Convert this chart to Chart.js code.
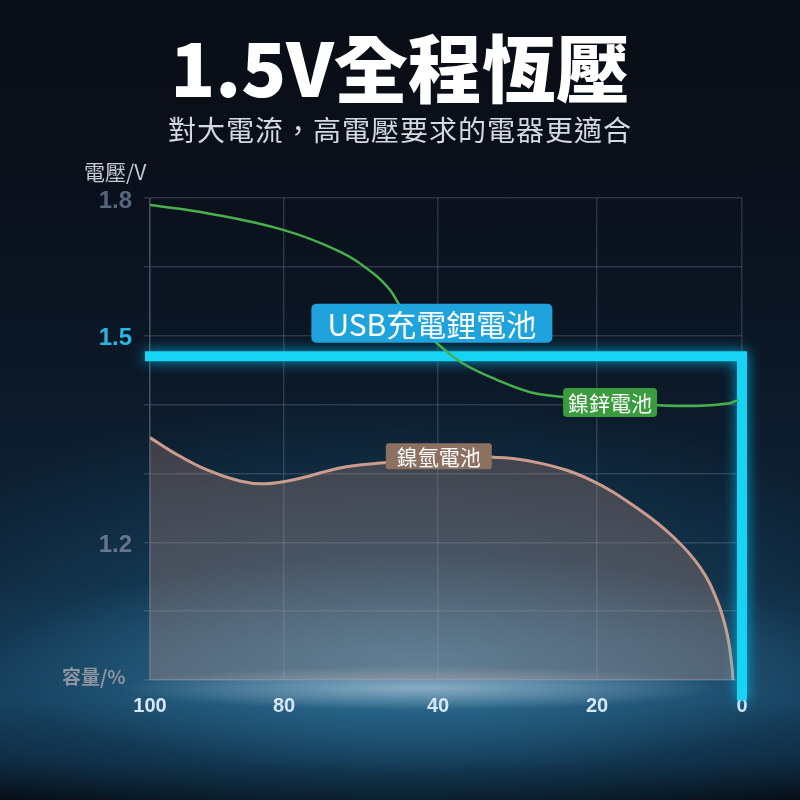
<!DOCTYPE html>
<html>
<head>
<meta charset="utf-8">
<script src="https://cdn.jsdelivr.net/npm/chart.js@4/dist/chart.umd.min.js"></script>
<style>
html,body{margin:0;padding:0;}
body{width:800px;height:800px;overflow:hidden;position:relative;font-family:"Noto Sans CJK TC",sans-serif;
background:
 radial-gradient(ellipse 300px 22px at 420px 688px, rgba(200,215,228,0.6), rgba(200,215,228,0) 100%),
 radial-gradient(ellipse 430px 110px at 420px 665px, rgba(70,145,185,0.55), rgba(70,145,185,0) 100%),
 radial-gradient(ellipse 560px 260px at 400px 650px, rgba(30,100,140,0.6), rgba(30,100,140,0) 100%),
 linear-gradient(to bottom, #090d16 0px, #0a0f19 140px, #0b1522 300px, #0e2336 580px, #163c58 700px, #0e263c 760px, #05090f 800px);}
#wrap{position:absolute;left:0;top:0;width:800px;height:800px;}
.title{position:absolute;left:0;width:800px;text-align:center;white-space:nowrap;}
#t1{top:21px;font-size:74px;line-height:88px;font-weight:900;color:#ffffff;}
#t2{top:112px;font-size:28px;line-height:34px;letter-spacing:1px;color:#d5d9e0;}
</style>
</head>
<body>
<div id="wrap"><canvas id="c" width="800" height="800"></canvas></div>
<div class="title" id="t1">1.5V全程恆壓</div>
<div class="title" id="t2">對大電流，高電壓要求的電器更適合</div>
<script>
// ---- data ----
const xTickValues = [0, 20, 40, 80, 100];
const xTickLabels = ['0', '20', '40', '80', '100'];
const yTickValues = [1.0, 1.1, 1.2, 1.3, 1.4, 1.5, 1.65, 1.8];
const yTickLabels = ['', '', '1.2', '', '', '1.5', '', '1.8'];
const axisTitles = ['容量/%', '電壓/V'];
const seriesNames = ['USB充電鋰電池', '鎳鋅電池', '鎳氫電池'];

const liCapacity = [100, 0, 0];
const liVoltage  = [1.47, 1.47, 0.978];

const znCapacity = [100, 91.5, 80, 65.5, 57, 52.5, 50, 45.2, 40.3, 36.9, 32.6, 28.4, 24.3, 18.2, 11.7, 6.2, 1.7, 0.5];
const znVoltage  = [1.785, 1.767, 1.730, 1.683, 1.637, 1.600, 1.567, 1.521, 1.489, 1.460, 1.436, 1.418, 1.411, 1.402, 1.399, 1.398, 1.402, 1.407];

const mhCapacity = [100, 96.6, 91.5, 86.6, 82.8, 75.8, 65.5, 55.1, 39.8, 33.5, 27.2, 20.9, 14.1, 9.5, 5.8, 3.45, 2.07, 1.38, 1.24];
const mhVoltage  = [1.352, 1.331, 1.305, 1.289, 1.285, 1.293, 1.308, 1.315, 1.322, 1.324, 1.315, 1.291, 1.247, 1.208, 1.164, 1.116, 1.068, 1.019, 1.0];

// ---- axis layout (value -> fraction of axis length) ----
const scaleBreaks = {
  x: [[0, 1], [20, 0.7551], [40, 0.4865], [80, 0.2264], [100, 0]],
  y: [[1.0, 0], [1.5, 5 / 7], [1.8, 1]]
};

// series tag styles (anchored in data units)
const tagStyles = [
  { x: 41.6, y: 1.527, w: 241, h: 39, r: 5, bg: '#1ea3dc', font: '30px "Noto Sans CJK TC"' },
  { x: 18.2, y: 1.403, w: 94, h: 29, r: 4, bg: '#3a9b3f', font: '21px "Noto Sans CJK TC"' },
  { x: 39.9, y: 1.325, w: 106, h: 26, r: 3, bg: '#8c7062', font: '21px "Noto Sans CJK TC"' }
];

const Linear = Chart.LinearScale || Chart.registry.getScale('linear');
class PiecewiseScale extends Linear {
  static id = 'piecewise';
  _decimal(v) {
    const b = scaleBreaks[this.id];
    let i = 0;
    while (i < b.length - 2 && v > b[i + 1][0]) i++;
    const [v0, f0] = b[i], [v1, f1] = b[i + 1];
    return f0 + (v - v0) * (f1 - f0) / (v1 - v0);
  }
  getPixelForValue(value) {
    if (value === null || value === undefined || isNaN(value)) return NaN;
    return this.getPixelForDecimal(this._decimal(+value));
  }
  getValueForPixel(pixel) {
    const d = this.getDecimalForPixel(pixel);
    const b = scaleBreaks[this.id];
    for (let i = 0; i < b.length - 1; i++) {
      const [v0, f0] = b[i], [v1, f1] = b[i + 1];
      const lo = Math.min(f0, f1), hi = Math.max(f0, f1);
      if ((d >= lo && d <= hi) || i === b.length - 2) return v0 + (d - f0) * (v1 - v0) / (f1 - f0);
    }
    return NaN;
  }
}
Chart.register(PiecewiseScale);

const gridColor = 'rgba(150,162,182,0.24)';
const yTickColors = ['#5f6f82', '#5f6f82', '#66778a', '#5f6f82', '#5f6f82', '#2ab6e2', '#5f6f82', '#56677c'];

const glowPlugin = {
  id: 'glow',
  beforeDatasetDraw(chart, args) {
    const ds = chart.data.datasets[args.index];
    if (ds.glow) { chart.ctx.save(); chart.ctx.shadowColor = ds.glow; chart.ctx.shadowBlur = 14; }
  },
  afterDatasetDraw(chart, args) {
    if (chart.data.datasets[args.index].glow) chart.ctx.restore();
  }
};

const tagPlugin = {
  id: 'tags',
  afterDatasetsDraw(chart) {
    const { ctx, scales: { x, y }, chartArea: a } = chart;
    ctx.save();
    ctx.textBaseline = 'middle';
    ctx.textAlign = 'left';
    ctx.font = '21px "Noto Sans CJK TC"';
    ctx.fillStyle = '#c5cad2';
    ctx.fillText(axisTitles[1], a.left - 66, a.top - 26);
    ctx.font = 'bold 19px "Noto Sans CJK TC"';
    ctx.fillStyle = '#8d96a0';
    ctx.fillText(axisTitles[0], a.left - 88, a.bottom - 3);
    tagStyles.forEach((t, i) => {
      const cx = x.getPixelForValue(t.x), cy = y.getPixelForValue(t.y);
      ctx.fillStyle = t.bg;
      ctx.beginPath();
      ctx.roundRect(cx - t.w / 2, cy - t.h / 2, t.w, t.h, t.r);
      ctx.fill();
      ctx.fillStyle = '#ffffff';
      ctx.font = t.font;
      ctx.textAlign = 'center';
      ctx.fillText(seriesNames[i], cx, cy + 1);
    });
    ctx.restore();
  }
};

const pts = (xs, ys) => xs.map((v, i) => ({ x: v, y: ys[i] }));

Chart.defaults.font.family = '"Noto Sans CJK TC", sans-serif';

new Chart(document.getElementById('c'), {
  type: 'line',
  data: {
    datasets: [
      { label: seriesNames[0], data: pts(liCapacity, liVoltage), borderColor: '#18d4f4', borderWidth: 10,
        borderCapStyle: 'square', borderJoinStyle: 'miter', tension: 0, pointRadius: 0, fill: false,
        clip: false, order: 1, glow: 'rgba(0,200,255,0.8)' },
      { label: seriesNames[1], data: pts(znCapacity, znVoltage), borderColor: '#48b04c', borderWidth: 2.5,
        tension: 0.4, pointRadius: 0, fill: false, order: 0 },
      { label: seriesNames[2], data: pts(mhCapacity, mhVoltage), borderColor: '#cc9d8d', borderWidth: 3,
        tension: 0.4, pointRadius: 0, fill: 'origin', order: 2,
        backgroundColor: (c) => {
          const a = c.chart.chartArea;
          if (!a) return 'rgba(160,115,100,0.3)';
          const g = c.chart.ctx.createLinearGradient(0, a.top, 0, a.bottom);
          g.addColorStop(0, 'rgba(150,105,92,0.30)');
          g.addColorStop(1, 'rgba(190,150,138,0.34)');
          return g;
        } }
    ]
  },
  options: {
    responsive: false,
    animation: false,
    layout: { padding: { left: 0, right: 58, top: 198, bottom: 70 } },
    plugins: { legend: { display: false }, tooltip: { enabled: false }, title: { display: false } },
    scales: {
      x: {
        type: 'piecewise', min: 0, max: 100,
        afterBuildTicks: (s) => { s.ticks = xTickValues.map(v => ({ value: v })); },
        afterFit: (s) => { s.height = 50; },
        ticks: { autoSkip: false, maxRotation: 0, padding: 14, color: '#d6e6f5',
          font: { family: "'Liberation Sans Narrow','Liberation Sans',sans-serif", size: 20, weight: 'bold' },
          callback: (v, i) => xTickLabels[i] },
        grid: { color: gridColor, lineWidth: 1.5, drawTicks: false },
        border: { color: gridColor, width: 1.5 }
      },
      y: {
        type: 'piecewise', min: 1.0, max: 1.8,
        afterBuildTicks: (s) => { s.ticks = yTickValues.map(v => ({ value: v })); },
        afterFit: (s) => { s.width = 150; },
        ticks: { autoSkip: false, padding: 12, labelOffset: 3,
          color: (c) => yTickColors[c.index],
          font: { family: "'Liberation Sans',sans-serif", size: 24, weight: 'bold' },
          callback: (v, i) => yTickLabels[i] },
        grid: { color: gridColor, lineWidth: 1.5, tickLength: 6 },
        border: { color: gridColor, width: 1.5 }
      }
    }
  },
  plugins: [glowPlugin, tagPlugin]
});
</script>
</body>
</html>
